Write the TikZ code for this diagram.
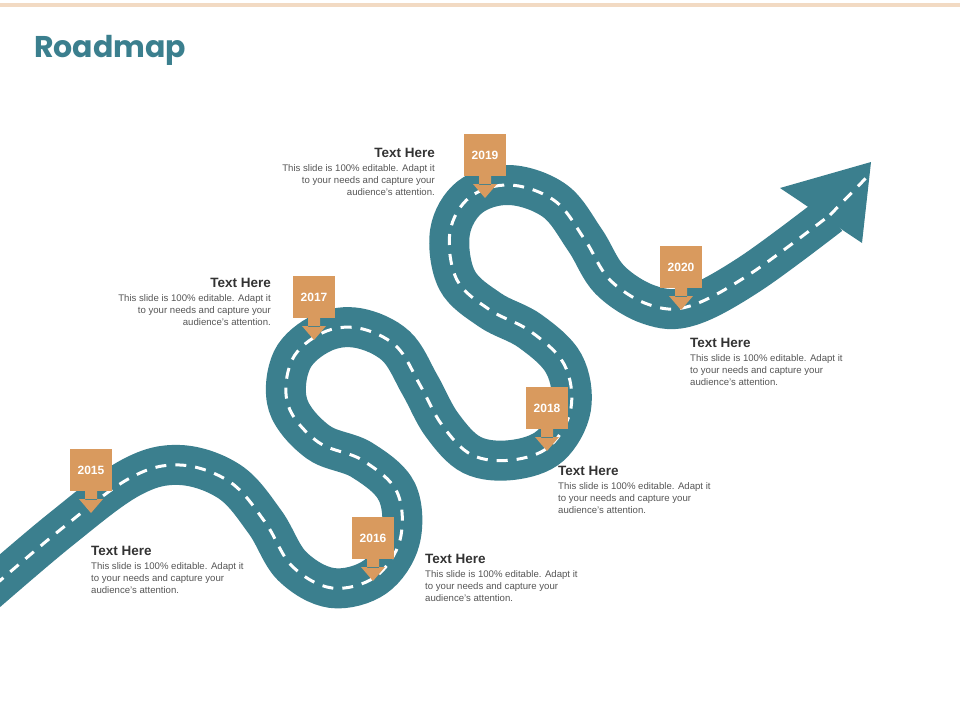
\documentclass[tikz,border=0pt]{standalone}
\usepackage{fontspec}
\setmainfont{Liberation Sans}
\newfontfamily\titlefont{Poppins}
\definecolor{teal}{HTML}{3B7F8E}
\definecolor{ora}{HTML}{D99A5E}
\definecolor{bar}{HTML}{F2DAC3}
\definecolor{txt}{HTML}{333333}
\definecolor{body}{HTML}{555555}
\begin{document}
\begin{tikzpicture}[x=1pt,y=-1pt,
 yearbox/.style={fill=ora,minimum width=42pt,minimum height=42pt,inner sep=0pt,text=white,font=\bfseries\fontsize{12}{12}\selectfont},
 head/.style={inner sep=0pt,font=\bfseries\fontsize{13.5}{14}\selectfont,text=txt},
 bodyl/.style={inner sep=0pt,font=\fontsize{9.6}{12}\selectfont,text=body,align=left},
 bodyr/.style={inner sep=0pt,font=\fontsize{9.6}{12}\selectfont,text=body,align=right}]
\useasboundingbox (0,0) rectangle (960,720);
\fill[bar] (0,3) rectangle (960,7);
\node[anchor=west,inner sep=0pt,text=teal,font=\titlefont\bfseries\fontsize{30}{30}\selectfont] (title) at (34,50) {Roadmap};
\def\road{plot[smooth,tension=0.6] coordinates{(-20,598)(60,530)(130,478)(180,465)(230,482)(265,522)(292,566)(332,588)(375,577)(400,540)(397,492)(362,460)(318,442)(288,405)(292,360)(322,333)(358,328)(396,346)(420,385)(442,425)(472,455)(512,460)(550,446)(571,408)(564,364)(530,331)(490,310)(457,280)(450,232)(470,197)(510,185)(555,201)(585,240)(610,280)(650,305)(690,306)(750,274)(830,215)}}
\draw[teal,line width=40pt] \road;
\fill[teal] (780,188) -- (871,162) -- (862,243) -- cycle;
\draw[white,line width=3pt,dash pattern=on 11pt off 9pt] \road;
\draw[white,line width=3pt,dash pattern=on 11pt off 9pt] (830,215) -- (866,178);
\foreach \n/\x/\y in {a/91/470,b/373/538,c/314/297,d/547/408,e/485/155,f/681/267}{
 \node[yearbox] (\n) at (\x,\y) {};
 \fill[ora] (\x-6,\y+20) rectangle (\x+6,\y+30) (\x-12,\y+29) -- (\x+12,\y+29) -- (\x,\y+43) -- cycle;
}
\node[yearbox,fill=none] at (a) {2015};
\node[yearbox,fill=none] at (b) {2016};
\node[yearbox,fill=none] at (c) {2017};
\node[yearbox,fill=none] at (d) {2018};
\node[yearbox,fill=none] at (e) {2019};
\node[yearbox,fill=none] at (f) {2020};
\def\txt{This slide is 100\% editable. Adapt it\\to your needs and capture your\\audience's attention.}
\node[head,anchor=west] (h1) at (91,551) {Text Here};
\node[bodyl,anchor=north west] (t1) at (91,562) {\txt};
\node[head,anchor=west] (h2) at (425,559) {Text Here};
\node[bodyl,anchor=north west] (t2) at (425,570) {\txt};
\node[head,anchor=west] (h3) at (558,471) {Text Here};
\node[bodyl,anchor=north west] (t3) at (558,482) {\txt};
\node[head,anchor=west] (h4) at (690,343) {Text Here};
\node[bodyl,anchor=north west] (t4) at (690,354) {\txt};
\node[head,anchor=east] (h5) at (271,283) {Text Here};
\node[bodyr,anchor=north east] (t5) at (271,294) {\txt};
\node[head,anchor=east] (h6) at (435,153) {Text Here};
\node[bodyr,anchor=north east] (t6) at (435,164) {\txt};
\end{tikzpicture}
\end{document}
